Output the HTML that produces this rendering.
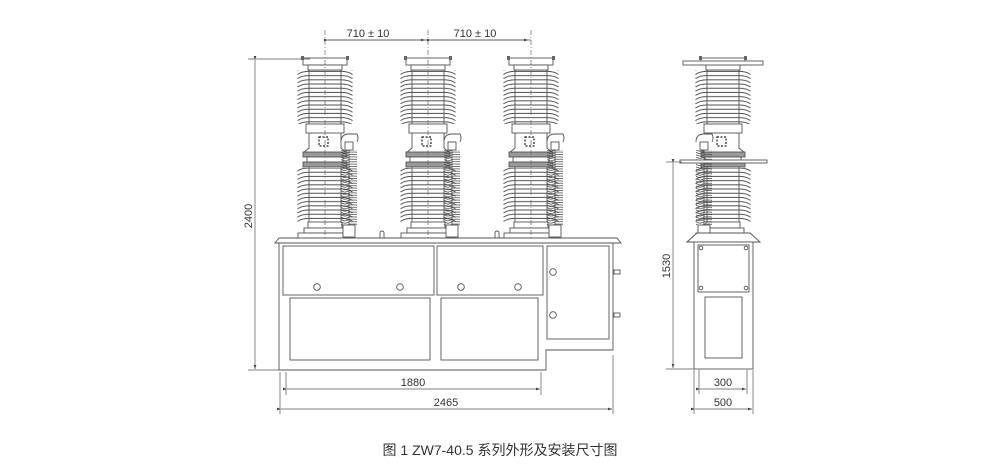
<!DOCTYPE html>
<html><head><meta charset="utf-8"><style>
html,body{margin:0;padding:0;background:#fff}
svg{display:block}
text{font-family:"Liberation Sans","Noto Sans CJK SC",sans-serif;fill:#333}
</style></head><body>
<svg width="1000" height="472" viewBox="0 0 1000 472" xmlns="http://www.w3.org/2000/svg">
<defs>
<pattern id="shed" patternUnits="userSpaceOnUse" x="-28" y="0" width="56" height="4.2">
<path d="M0.5,3.8 Q5,0.6 12,0.8 L44,0.8 Q51,0.6 55.5,3.8" fill="none" stroke="#444" stroke-width="0.9"/>
</pattern>
<pattern id="small" patternUnits="userSpaceOnUse" x="0" y="0" width="16" height="2.4">
<path d="M0,2.2 L5,0.5 L11,0.5 L16,2.2" fill="none" stroke="#444" stroke-width="0.8"/>
</pattern>
<g id="col" fill="#fff" stroke="#555" stroke-width="0.9">
<rect x="-28" y="12" width="56" height="54" fill="url(#shed)" stroke="none"/>
<rect x="-28" y="110" width="56" height="54" fill="url(#shed)" stroke="none"/>
<line x1="-16" y1="12" x2="-16" y2="66"/><line x1="16" y1="12" x2="16" y2="66"/>
<line x1="-16" y1="108" x2="-16" y2="164"/><line x1="16" y1="108" x2="16" y2="164"/>
<rect x="-22" y="0" width="44" height="7"/>
<rect x="-17" y="7" width="34" height="5"/>
<rect x="-19" y="66" width="38" height="9"/>
<path d="M-16,75 L-16,90 L-22,95 M16,75 L16,90 L22,95"/>
<rect x="-22" y="94" width="44" height="5" fill="#999"/>
<rect x="-18" y="99" width="36" height="5"/>
<rect x="-22" y="104" width="44" height="5" fill="#999"/>
<rect x="-6" y="79" width="9" height="9" fill="none" stroke="#222" stroke-width="1.2" stroke-dasharray="2,1.5"/>
<rect x="-17" y="164" width="34" height="6"/>
<rect x="-21" y="170" width="42" height="5"/>
<rect x="-27" y="175" width="54" height="5"/>
<rect x="-24" y="-2" width="3" height="4" fill="#666" stroke="none"/>
<rect x="21" y="-2" width="3" height="4" fill="#666" stroke="none"/>
</g>
<g id="side" fill="#fff" stroke="#555" stroke-width="0.9">
<path d="M-4,84 Q-4,76 4,76 L12,76 Q14,80 12,84"/>
<rect x="0" y="84" width="8" height="8"/>
<rect x="-4" y="92" width="16" height="75" fill="url(#small)" stroke="none"/>
<line x1="4" y1="92" x2="4" y2="172"/>
<rect x="-2" y="167" width="12" height="12"/>
</g>
<marker id="ar" markerWidth="6" markerHeight="6" refX="6" refY="3" orient="auto"><path d="M0,1 L6,3 L0,5z" fill="#444"/></marker>
</defs>

<g transform="translate(0,58)">
<use href="#col" x="325"/><use href="#col" x="428"/><use href="#col" x="531"/>
<use href="#side" x="345"/><use href="#side" x="448"/><use href="#side" x="551"/>
</g>
<g stroke="#666" stroke-width="0.7" stroke-dasharray="5,2,1,2">
<line x1="325" y1="30" x2="325" y2="240"/><line x1="428" y1="30" x2="428" y2="240"/><line x1="531" y1="30" x2="531" y2="240"/>
</g>
<g fill="#fff" stroke="#555" stroke-width="0.9">
<rect x="380" y="231" width="4" height="8" rx="2"/><rect x="495" y="231" width="4" height="8" rx="2"/>
<path d="M275,243 L279,238 L617,238 L621,243 Z"/>
<path d="M279,243 L279,370 L546,370 L546,350 L613,350 L613,243 Z"/>
<rect x="283" y="246" width="151" height="49"/>
<rect x="437" y="246" width="106" height="49"/>
<rect x="547" y="246" width="62" height="93"/>
<rect x="290" y="298" width="140" height="62"/>
<rect x="441" y="298" width="97" height="62"/>
<circle cx="317" cy="287" r="3.3"/><circle cx="400" cy="287" r="3.3"/>
<circle cx="461" cy="287" r="3.3"/><circle cx="518" cy="287" r="3.3"/>
<circle cx="553" cy="272" r="3.3"/><circle cx="553" cy="315" r="3.3"/>
<rect x="614" y="270" width="6" height="4"/><rect x="614" y="313" width="6" height="4"/>
</g>

<g transform="translate(0,58)"><use href="#col" x="723"/><use href="#side" x="700"/></g>
<g fill="#fff" stroke="#555" stroke-width="0.9">
<rect x="683" y="61" width="80" height="4"/>
<rect x="680" y="160" width="87" height="3"/>
<path d="M687,242 L697,233 L750,233 L760,242 Z"/>
<rect x="694" y="242" width="59" height="127"/>
<rect x="698" y="245" width="51" height="47"/>
<rect x="705" y="297" width="37" height="61"/>
<circle cx="701" cy="248" r="1.8"/><circle cx="746" cy="248" r="1.8"/>
<circle cx="701" cy="288" r="1.8"/><circle cx="746" cy="288" r="1.8"/>
</g>

<g stroke="#555" stroke-width="0.7" fill="none">
<line x1="325" y1="40" x2="531" y2="40"/>
<line x1="328" y1="40" x2="425" y2="40" marker-start="url(#ar)" marker-end="url(#ar)"/>
<line x1="431" y1="40" x2="528" y2="40" marker-start="url(#ar)" marker-end="url(#ar)"/>
<line x1="248" y1="59" x2="310" y2="59"/><line x1="248" y1="370" x2="279" y2="370"/>
<line x1="255" y1="60" x2="255" y2="369" marker-start="url(#ar)" marker-end="url(#ar)"/>
<line x1="286" y1="372" x2="286" y2="395"/><line x1="541" y1="372" x2="541" y2="395"/>
<line x1="287" y1="389" x2="540" y2="389" marker-start="url(#ar)" marker-end="url(#ar)"/>
<line x1="280" y1="372" x2="280" y2="414"/><line x1="613" y1="355" x2="613" y2="414"/>
<line x1="281" y1="409" x2="612" y2="409" marker-start="url(#ar)" marker-end="url(#ar)"/>
<line x1="666" y1="162" x2="682" y2="162"/><line x1="666" y1="369" x2="694" y2="369"/>
<line x1="673" y1="163" x2="673" y2="368" marker-start="url(#ar)" marker-end="url(#ar)"/>
<line x1="699" y1="370" x2="699" y2="394"/><line x1="747" y1="370" x2="747" y2="394"/>
<line x1="700" y1="389" x2="746" y2="389" marker-start="url(#ar)" marker-end="url(#ar)"/>
<line x1="694" y1="370" x2="694" y2="414"/><line x1="753" y1="370" x2="753" y2="414"/>
<line x1="695" y1="409" x2="752" y2="409" marker-start="url(#ar)" marker-end="url(#ar)"/>
</g>
<g font-size="11">
<text x="368" y="37" text-anchor="middle">710 ± 10</text>
<text x="475" y="37" text-anchor="middle">710 ± 10</text>
<text x="413" y="386" text-anchor="middle">1880</text>
<text x="446" y="406" text-anchor="middle">2465</text>
<text x="723" y="386" text-anchor="middle">300</text>
<text x="723" y="406" text-anchor="middle">500</text>
<text transform="translate(252,216) rotate(-90)" text-anchor="middle">2400</text>
<text transform="translate(670,266) rotate(-90)" text-anchor="middle">1530</text>
</g>
<text x="500" y="455" font-size="14" text-anchor="middle">图 1  ZW7-40.5 系列外形及安装尺寸图</text>
</svg>
</body></html>
